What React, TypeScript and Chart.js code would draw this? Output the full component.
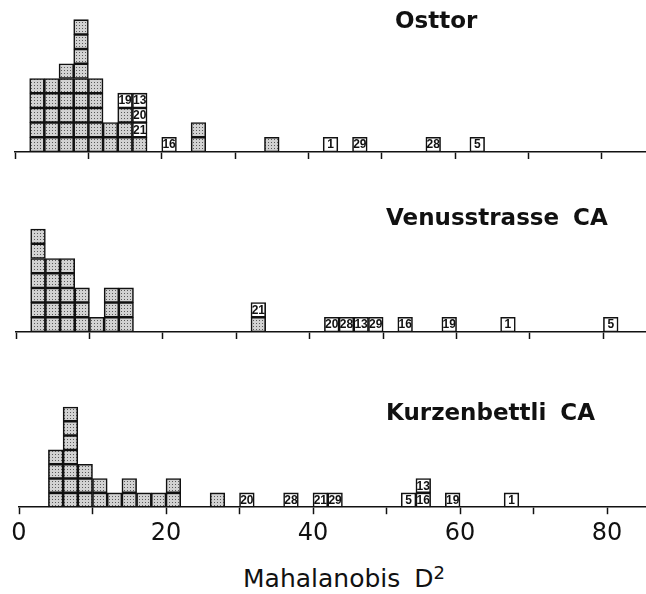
import React, { useEffect, useRef } from "react";
import { Chart, registerables } from "chart.js";

Chart.register(...registerables);

// ---- Data (bin start values of Mahalanobis D², bins are 2 units wide) ----
// Osttor
const osttorShadedBins = [2, 4, 6, 8, 10, 12, 14, 16, 24, 34];
const osttorShadedCounts = [5, 5, 6, 9, 5, 2, 3, 1, 2, 1];
const osttorLabelBins = [14, 16, 16, 16, 20, 42, 46, 56, 62];
const osttorLabels = ["19", "21", "20", "13", "16", "1", "29", "28", "5"];

// Venusstrasse CA
const venusShadedBins = [2, 4, 6, 8, 10, 12, 14, 32];
const venusShadedCounts = [7, 5, 5, 3, 1, 3, 3, 1];
const venusLabelBins = [32, 42, 44, 46, 48, 52, 58, 66, 80];
const venusLabels = ["21", "20", "28", "13", "29", "16", "19", "1", "5"];

// Kurzenbettli CA
const kurzShadedBins = [4, 6, 8, 10, 12, 14, 16, 18, 20, 26];
const kurzShadedCounts = [4, 7, 3, 2, 1, 2, 1, 1, 2, 1];
const kurzLabelBins = [30, 36, 40, 42, 52, 54, 54, 58, 66];
const kurzLabels = ["20", "28", "21", "29", "5", "16", "13", "19", "1"];

// Axis ticks
const xTickValues = [0, 10, 20, 30, 40, 50, 60, 70, 80];
const xTickLabels = ["0", "", "20", "", "40", "", "60", "", "80"];
const X_AXIS_TITLE = "Mahalanobis D";

const BIN_WIDTH = 2;

type Box = { x: number; y: [number, number]; label?: string };

function buildBoxes(
  shadedBins: number[],
  shadedCounts: number[],
  labelBins: number[],
  labels: string[]
) {
  const level = new Map<number, number>();
  const shaded: Box[] = [];
  shadedBins.forEach((b, i) => {
    for (let k = 0; k < shadedCounts[i]; k++) {
      const l = level.get(b) ?? 0;
      shaded.push({ x: b + BIN_WIDTH / 2, y: [l, l + 1] });
      level.set(b, l + 1);
    }
  });
  const labeled: Box[] = [];
  labelBins.forEach((b, i) => {
    const l = level.get(b) ?? 0;
    labeled.push({ x: b + BIN_WIDTH / 2, y: [l, l + 1], label: labels[i] });
    level.set(b, l + 1);
  });
  return { shaded, labeled };
}

function makeStipple(): CanvasPattern | string {
  const c = document.createElement("canvas");
  c.width = 3;
  c.height = 3;
  const g = c.getContext("2d");
  if (!g) return "#c4c4c4";
  g.fillStyle = "#d2d2d2";
  g.fillRect(0, 0, 3, 3);
  g.fillStyle = "#5a5a5a";
  g.fillRect(1, 1, 1, 1);
  const p = g.createPattern(c, "repeat");
  return p ?? "#c4c4c4";
}

const boxLabelPlugin = {
  id: "boxLabels",
  afterDatasetsDraw(chart: any) {
    const ctx = chart.ctx as CanvasRenderingContext2D;
    chart.data.datasets.forEach((ds: any, di: number) => {
      const meta = chart.getDatasetMeta(di);
      meta.data.forEach((el: any, i: number) => {
        const raw = ds.data[i] as Box;
        if (!raw || !raw.label) return;
        const { x, y, base } = el.getProps(["x", "y", "base"], true);
        ctx.save();
        ctx.font = 'bold 12px "Liberation Sans Narrow", "Liberation Sans", sans-serif';
        ctx.fillStyle = "#111";
        ctx.textAlign = "center";
        ctx.textBaseline = "middle";
        ctx.fillText(raw.label, x, (y + base) / 2 + 0.5);
        ctx.restore();
      });
    });
  },
};

type PanelProps = {
  top: number;
  height: number;
  x0: number;
  xMax: number;
  padTop: number;
  showLabels: boolean;
  shadedBins: number[];
  shadedCounts: number[];
  labelBins: number[];
  labels: string[];
};

function Panel(props: PanelProps) {
  const ref = useRef<HTMLCanvasElement | null>(null);
  useEffect(() => {
    if (!ref.current) return;
    const { shaded, labeled } = buildBoxes(
      props.shadedBins,
      props.shadedCounts,
      props.labelBins,
      props.labels
    );
    const stipple = makeStipple();
    const common = {
      type: "bar" as const,
      grouped: false,
      categoryPercentage: 1,
      barPercentage: 1,
      borderColor: "#111",
      borderWidth: 1.6,
      borderSkipped: false,
    };
    const chart = new Chart(ref.current, {
      type: "bar",
      data: {
        datasets: [
          { ...common, label: "shaded", data: shaded as any, backgroundColor: stipple as any },
          { ...common, label: "labeled", data: labeled as any, backgroundColor: "#ffffff" },
        ],
      },
      options: {
        responsive: false,
        animation: false,
        events: [],
        layout: { padding: { left: props.x0, right: 0, top: props.padTop, bottom: 0 } },
        plugins: { legend: { display: false }, tooltip: { enabled: false } },
        scales: {
          x: {
            type: "linear",
            min: 0,
            max: props.xMax,
            offset: false,
            afterBuildTicks: (scale: any) => {
              scale.ticks = xTickValues.map((v) => ({ value: v }));
            },
            ticks: {
              display: props.showLabels,
              maxRotation: 0,
              autoSkip: false,
              padding: 5,
              color: "#111",
              font: { family: '"DejaVu Sans", sans-serif', size: 24 },
              callback: (v: any) => {
                const idx = xTickValues.indexOf(Number(v));
                return idx >= 0 ? xTickLabels[idx] : "";
              },
            },
            grid: {
              offset: false,
              drawOnChartArea: false,
              drawTicks: true,
              tickLength: 7,
              tickWidth: 1.5,
              tickColor: "#111",
            },
            border: { display: true, color: "#111", width: 1.6 },
          },
          y: {
            display: false,
            min: 0,
            max: 10,
          },
        },
      },
      plugins: [boxLabelPlugin],
    });
    return () => chart.destroy();
  }, []);
  return (
    <canvas
      ref={ref}
      width={646}
      height={props.height}
      style={{ position: "absolute", left: 0, top: props.top, width: 646, height: props.height }}
    />
  );
}

const titleStyle: React.CSSProperties = {
  position: "absolute",
  fontFamily: '"DejaVu Sans", sans-serif',
  fontWeight: "bold",
  fontSize: 23,
  lineHeight: "23px",
  color: "#111",
  whiteSpace: "pre",
  wordSpacing: 6,
};

export default function App() {
  return (
    <div
      style={{
        position: "absolute",
        left: 0,
        top: 0,
        width: 646,
        height: 594,
        background: "#fff",
        overflow: "hidden",
      }}
    >
      <Panel
        top={0}
        height={159}
        x0={15}
        xMax={86}
        padTop={5}
        showLabels={false}
        shadedBins={osttorShadedBins}
        shadedCounts={osttorShadedCounts}
        labelBins={osttorLabelBins}
        labels={osttorLabels}
      />
      <Panel
        top={160}
        height={179}
        x0={16}
        xMax={85.8}
        padTop={25}
        showLabels={false}
        shadedBins={venusShadedBins}
        shadedCounts={venusShadedCounts}
        labelBins={venusLabelBins}
        labels={venusLabels}
      />
      <Panel
        top={345}
        height={208}
        x0={19}
        xMax={85.3}
        padTop={19}
        showLabels={true}
        shadedBins={kurzShadedBins}
        shadedCounts={kurzShadedCounts}
        labelBins={kurzLabelBins}
        labels={kurzLabels}
      />
      <div style={{ ...titleStyle, left: 395, top: 9 }}>Osttor</div>
      <div style={{ ...titleStyle, left: 386, top: 206 }}>Venusstrasse CA</div>
      <div style={{ ...titleStyle, left: 386, top: 401 }}>Kurzenbettli CA</div>
      <div
        style={{
          position: "absolute",
          left: 243,
          top: 566,
          fontFamily: '"DejaVu Sans", sans-serif',
          fontSize: 25,
          lineHeight: "25px",
          color: "#111",
          whiteSpace: "pre",
          wordSpacing: 6,
        }}
      >
        {X_AXIS_TITLE}
        <sup style={{ fontSize: 18, verticalAlign: "top", position: "relative", top: -6 }}>2</sup>
      </div>
    </div>
  );
}
